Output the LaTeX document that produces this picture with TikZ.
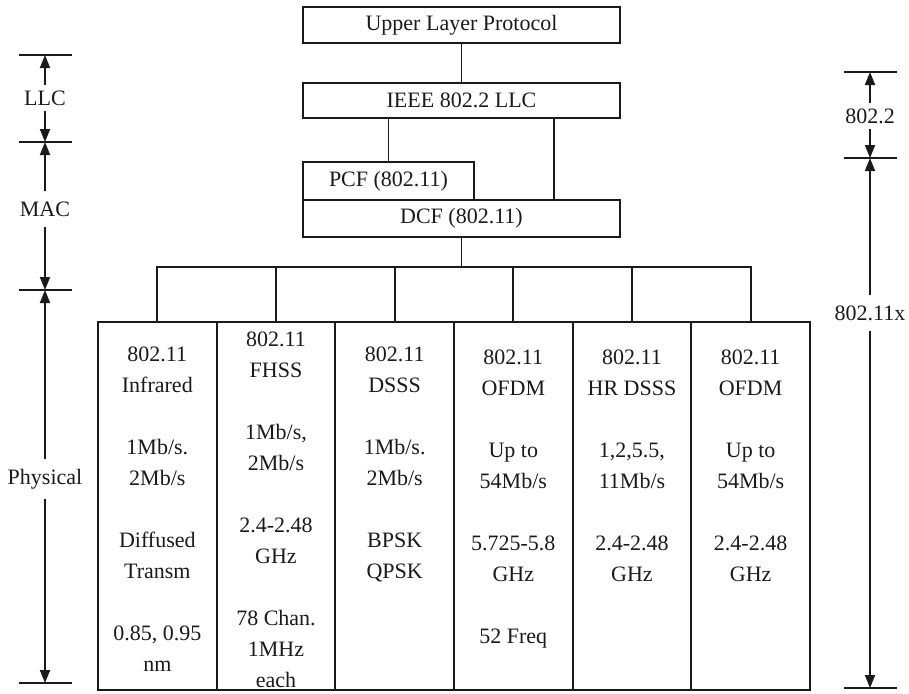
\documentclass[tikz,border=0pt]{standalone}
\usepackage{fontspec}
\setmainfont{Liberation Serif}
\usetikzlibrary{arrows.meta,positioning}
\definecolor{wlink}{HTML}{1A1A1A}

\begin{document}
\begin{tikzpicture}[
  x=0.5pt, y=-0.5pt,
  every node/.style={font=\fontsize{11}{15.5}\selectfont, text=wlink},
  box/.style={draw=wlink, line width=0.9pt, outer sep=0pt, inner sep=0pt,
              minimum width=158.5pt, minimum height=18pt},
  col/.style={draw=wlink, line width=0.9pt, outer sep=0pt, inner sep=0pt,
              minimum width=59.33pt, minimum height=184pt},
  txt/.style={align=center, inner sep=0pt},
  lnk/.style={wlink, line width=0.9pt},
  dim/.style={-{Triangle[length=6.5pt,width=5pt]}, wlink, line width=0.9pt},
  dimlbl/.style={inner sep=5pt},
]
\useasboundingbox (0,0) rectangle (909,693);

% protocol stack
\node[box] (ulp) at (461.5,25) {Upper Layer Protocol};
\node[box, minimum height=17.5pt, below=20pt of ulp] (llc) {IEEE 802.2 LLC};
\node[box, minimum height=18.5pt, below=41pt of llc] (dcf) {DCF (802.11)};
\node[box, minimum width=85.5pt, minimum height=19pt, anchor=south west]
  (pcf) at (dcf.north west) {PCF (802.11)};
\coordinate (dcfin) at (554,200);

\draw[lnk] (ulp) -- (llc);
\draw[lnk] (pcf.north) -- (pcf.north |- llc.south);
\draw[lnk] (dcfin) -- (dcfin |- llc.south);

% physical layers
\node[col] (p1) at (157.33,506) {};
\node[col, right=0pt of p1] (p2) {};
\node[col, right=0pt of p2] (p3) {};
\node[col, right=0pt of p3] (p4) {};
\node[col, right=0pt of p4] (p5) {};
\node[col, right=0pt of p5] (p6) {};

\node[txt, below=12pt of p1.north] (t1)
  {802.11\\Infrared\\[15.5pt]1Mb/s.\\2Mb/s\\[15.5pt]Diffused\\Transm\\[15.5pt]0.85, 0.95\\nm};
\node[txt, below=4.5pt of p2.north] (t2)
  {802.11\\FHSS\\[15.5pt]1Mb/s,\\2Mb/s\\[15.5pt]2.4-2.48\\GHz\\[15.5pt]78 Chan.\\1MHz\\each};
\node[txt, below=12pt of p3.north] (t3)
  {802.11\\DSSS\\[15.5pt]1Mb/s.\\2Mb/s\\[15.5pt]BPSK\\QPSK};
\node[txt, below=13.5pt of p4.north] (t4)
  {802.11\\OFDM\\[15.5pt]Up to\\54Mb/s\\[15.5pt]5.725-5.8\\GHz\\[15.5pt]52 Freq};
\node[txt, below=13.5pt of p5.north] (t5)
  {802.11\\HR DSSS\\[15.5pt]1,2,5.5,\\11Mb/s\\[15.5pt]2.4-2.48\\GHz};
\node[txt, below=13.5pt of p6.north] (t6)
  {802.11\\OFDM\\[15.5pt]Up to\\54Mb/s\\[15.5pt]2.4-2.48\\GHz};

\coordinate (bus) at (461.5,267);
\draw[lnk] (dcf) -- (bus);
\draw[lnk] (p1.north) |- (bus) -| (p6.north);
\foreach \i in {2,...,5}
  \draw[lnk] (p\i.north) -- (p\i.north |- bus);

% layer extents
\foreach \n/\y in {L0/55, L1/142, L2/290, L3/683}
  \coordinate (\n) at (45,\y);
\foreach \n/\y in {R0/72, R1/158, R2/688}
  \coordinate (\n) at (870,\y);
\foreach \n in {L0,L1,L2,L3,R0,R1,R2}
  \draw[lnk] (\n) +(-26,0) -- +(27,0);

\node[dimlbl, inner sep=2.5pt] (llcL) at (45,98) {LLC};
\node[dimlbl] (macL) at (45,209) {MAC};
\node[dimlbl] (phyL) at (45,479) {Physical};
\node[dimlbl, inner sep=2.5pt] (r22) at (870,116) {802.2};
\node[dimlbl] (r11x) at (870,313) {802.11x};

\draw[dim] (llcL) -- (L0);
\draw[dim] (llcL) -- (L1);
\draw[dim] (macL) -- (L1);
\draw[dim] (macL) -- (L2);
\draw[dim] (phyL) -- (L2);
\draw[dim] (phyL) -- (L3);
\draw[dim] (r22) -- (R0);
\draw[dim] (r22) -- (R1);
\draw[dim] (r11x) -- (R1);
\draw[dim] (r11x) -- (R2);
\end{tikzpicture}
\end{document}
